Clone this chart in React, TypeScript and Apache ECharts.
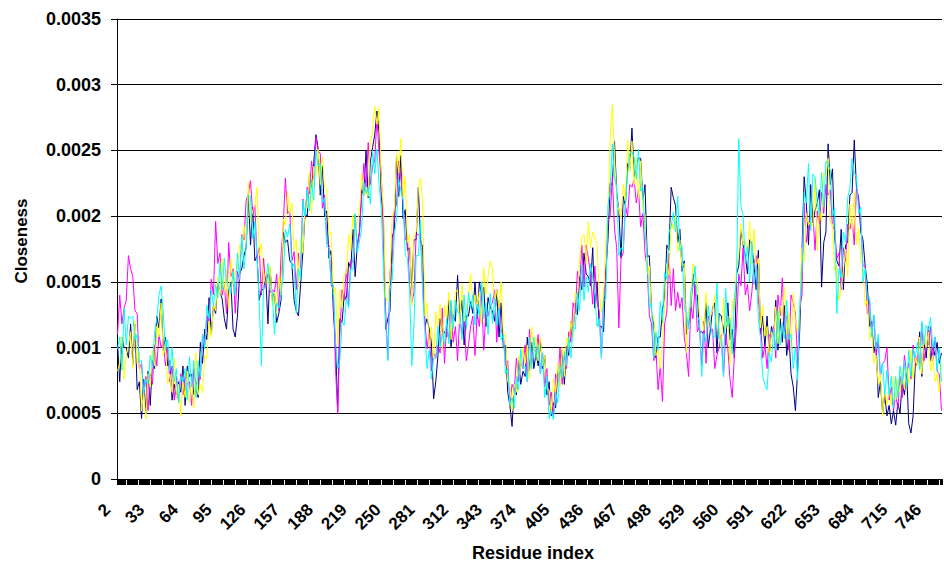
import React, { useEffect, useRef } from "react";
import * as echarts from "echarts";

// Residue range on the category axis and the step of the sampled closeness values
const FIRST_RESIDUE = 2;
const LAST_RESIDUE = 758;
const SAMPLE_STEP = 2;

// Closeness values in units of 1e-5, one per sampled residue (2, 4, 6, ... 758);
// each row covers 30 residues.
const navyVals = [
  103, 74, 108, 100, 100, 92, 118, 87, 118, 68, 74, 46, 76, 50, 82,
  56, 90, 84, 124, 115, 137, 98, 108, 86, 90, 60, 72, 62, 74, 66,
  86, 56, 86, 78, 80, 64, 68, 62, 104, 88, 114, 106, 138, 110, 132,
  126, 150, 142, 137, 122, 114, 143, 150, 114, 108, 124, 156, 160, 170, 176,
  216, 178, 207, 166, 170, 136, 144, 144, 154, 118, 160, 136, 142, 119, 126,
  136, 188, 180, 182, 166, 164, 136, 128, 124, 148, 172, 202, 200, 230, 222,
  240, 262, 252, 216, 238, 200, 204, 168, 174, 128, 104, 52, 122, 119, 140,
  136, 165, 160, 190, 154, 178, 188, 220, 216, 250, 214, 242, 252, 262, 280,
  263, 215, 197, 114, 122, 128, 184, 190, 246, 215, 246, 198, 205, 174, 176,
  144, 182, 182, 222, 182, 176, 116, 122, 114, 104, 61, 74, 94, 122, 112,
  112, 108, 136, 100, 125, 120, 155, 122, 136, 102, 124, 124, 135, 126, 150,
  122, 150, 140, 146, 116, 138, 130, 128, 120, 144, 108, 134, 100, 102, 66,
  56, 40, 72, 64, 90, 72, 82, 78, 108, 82, 104, 84, 96, 86, 106,
  84, 94, 64, 74, 48, 58, 54, 84, 78, 98, 72, 101, 94, 120, 112,
  134, 125, 154, 144, 172, 156, 154, 147, 176, 130, 150, 116, 116, 112, 158,
  182, 225, 224, 257, 218, 204, 168, 215, 208, 240, 236, 267, 230, 238, 244,
  244, 212, 224, 169, 170, 126, 118, 92, 108, 108, 129, 138, 178, 174, 222,
  214, 208, 180, 190, 158, 166, 110, 118, 128, 156, 140, 140, 112, 112, 110,
  134, 100, 114, 130, 134, 96, 126, 124, 114, 102, 134, 106, 114, 92, 156,
  162, 190, 178, 170, 156, 182, 178, 162, 144, 174, 110, 124, 100, 124, 94,
  116, 108, 136, 98, 122, 104, 132, 94, 110, 80, 70, 52, 82, 114, 173,
  230, 210, 178, 224, 195, 204, 210, 220, 146, 180, 188, 255, 224, 236, 184,
  166, 162, 190, 144, 178, 180, 216, 218, 258, 222, 214, 188, 182, 162, 148,
  116, 120, 96, 104, 62, 74, 50, 64, 48, 56, 42, 52, 41, 58, 50,
  74, 64, 82, 42, 35, 48, 88, 86, 112, 78, 104, 92, 116, 90, 102,
  94, 104, 88, 96,
];

const magentaVals = [
  110, 140, 118, 130, 136, 170, 160, 154, 128, 126, 84, 88, 64, 78, 52,
  80, 72, 102, 86, 110, 100, 104, 86, 100, 74, 86, 60, 78, 58, 80,
  64, 78, 72, 74, 56, 84, 72, 76, 76, 110, 102, 124, 120, 152, 140,
  196, 164, 172, 140, 148, 126, 180, 154, 160, 126, 158, 151, 186, 182, 212,
  217, 227, 202, 208, 168, 176, 140, 168, 146, 156, 142, 144, 142, 156, 128,
  170, 192, 229, 202, 204, 166, 173, 144, 172, 160, 213, 198, 222, 217, 242,
  228, 260, 249, 248, 206, 216, 180, 178, 148, 144, 84, 50, 110, 144, 136,
  160, 132, 166, 165, 201, 176, 188, 216, 240, 222, 256, 224, 238, 242, 275,
  247, 234, 180, 128, 91, 158, 165, 206, 208, 242, 229, 210, 182, 184, 148,
  134, 142, 186, 186, 184, 148, 120, 99, 112, 82, 96, 92, 102, 96, 130,
  88, 116, 106, 134, 104, 116, 90, 124, 110, 124, 90, 102, 116, 124, 94,
  126, 116, 142, 98, 126, 124, 132, 134, 144, 104, 136, 112, 110, 86, 90,
  56, 72, 68, 92, 74, 88, 84, 102, 74, 114, 88, 100, 96, 110, 80,
  96, 70, 84, 56, 66, 48, 80, 74, 100, 72, 94, 84, 112, 104, 134,
  126, 158, 146, 178, 146, 178, 168, 156, 133, 162, 134, 128, 92, 140, 152,
  196, 200, 230, 190, 176, 115, 168, 172, 208, 200, 224, 222, 228, 210, 220,
  192, 202, 172, 160, 124, 118, 90, 98, 68, 86, 59, 118, 127, 172, 132,
  160, 128, 142, 130, 138, 108, 96, 78, 132, 122, 148, 112, 116, 86, 120,
  88, 124, 114, 114, 84, 94, 100, 110, 78, 110, 99, 76, 62, 94, 118,
  156, 147, 176, 140, 148, 128, 142, 164, 170, 136, 120, 92, 102, 84, 110,
  108, 116, 92, 140, 124, 153, 112, 124, 98, 140, 134, 126, 88, 130, 140,
  210, 180, 192, 200, 202, 174, 204, 194, 218, 202, 224, 216, 220, 192, 190,
  168, 172, 144, 176, 166, 194, 190, 198, 178, 222, 210, 194, 162, 162, 126,
  136, 110, 124, 94, 106, 78, 88, 90, 100, 60, 70, 52, 64, 54, 78,
  62, 94, 80, 88, 76, 102, 86, 94, 88, 118, 90, 102, 102, 116, 90,
  108, 82, 80, 52,
];

const yellowVals = [
  82, 88, 108, 76, 94, 102, 112, 84, 120, 88, 96, 52, 66, 46, 80,
  70, 98, 86, 116, 108, 134, 94, 104, 72, 80, 66, 92, 62, 72, 48,
  74, 62, 82, 58, 76, 54, 96, 64, 72, 66, 94, 92, 120, 108, 132,
  128, 154, 140, 168, 142, 159, 129, 168, 148, 158, 160, 178, 172, 193, 180,
  226, 196, 204, 208, 222, 170, 179, 148, 158, 148, 162, 132, 142, 126, 154,
  140, 198, 193, 219, 202, 210, 174, 182, 146, 183, 172, 207, 206, 233, 202,
  238, 230, 251, 224, 245, 222, 220, 186, 188, 140, 146, 102, 144, 130, 156,
  156, 186, 174, 201, 184, 196, 204, 232, 216, 222, 215, 257, 264, 284, 270,
  282, 228, 206, 138, 135, 154, 200, 205, 248, 233, 259, 214, 230, 180, 186,
  132, 186, 188, 221, 229, 209, 124, 134, 101, 116, 90, 127, 116, 133, 98,
  132, 122, 142, 106, 125, 142, 144, 118, 148, 120, 131, 138, 156, 132, 140,
  130, 142, 118, 161, 140, 154, 166, 160, 134, 144, 130, 150, 110, 110, 74,
  74, 52, 72, 66, 94, 84, 100, 88, 102, 76, 116, 96, 108, 90, 108,
  86, 94, 68, 68, 50, 76, 64, 88, 70, 100, 78, 108, 100, 120, 108,
  142, 138, 166, 184, 186, 164, 196, 176, 188, 184, 178, 142, 127, 140, 182,
  205, 258, 285, 246, 214, 204, 199, 224, 211, 258, 234, 257, 224, 244, 213,
  242, 204, 201, 156, 162, 124, 124, 94, 98, 84, 106, 132, 164, 155, 196,
  190, 200, 173, 182, 162, 164, 96, 130, 131, 164, 155, 152, 124, 123, 113,
  142, 116, 124, 128, 140, 119, 114, 100, 138, 114, 124, 87, 137, 128, 161,
  170, 194, 178, 181, 172, 196, 164, 190, 162, 168, 115, 132, 109, 116, 93,
  112, 108, 131, 103, 132, 124, 146, 110, 126, 98, 141, 120, 112, 130, 176,
  165, 202, 193, 196, 192, 229, 174, 205, 196, 233, 230, 244, 194, 194, 158,
  162, 136, 146, 158, 175, 154, 209, 190, 218, 178, 191, 167, 162, 132, 136,
  106, 114, 88, 94, 72, 82, 48, 68, 56, 70, 56, 78, 60, 76, 66,
  84, 68, 84, 73, 98, 76, 94, 86, 108, 80, 110, 100, 112, 82, 94,
  74, 80, 66, 88,
];

const cyanVals = [
  99, 108, 83, 130, 102, 124, 122, 124, 106, 110, 89, 90, 65, 76, 72,
  94, 84, 112, 122, 140, 147, 126, 98, 106, 82, 100, 74, 84, 58, 78,
  74, 84, 60, 93, 70, 90, 62, 90, 78, 110, 99, 132, 122, 144, 132,
  148, 138, 165, 144, 168, 150, 146, 141, 158, 140, 172, 152, 185, 160, 176,
  216, 215, 183, 196, 170, 134, 86, 146, 148, 164, 144, 142, 110, 134, 130,
  143, 153, 190, 184, 194, 160, 164, 126, 160, 152, 212, 200, 220, 204, 226,
  212, 250, 238, 240, 210, 214, 177, 176, 148, 148, 104, 84, 90, 120, 117,
  138, 130, 160, 159, 202, 172, 181, 191, 226, 217, 222, 209, 250, 232, 251,
  224, 206, 158, 120, 90, 144, 152, 186, 198, 228, 219, 212, 170, 168, 142,
  86, 118, 170, 170, 197, 140, 111, 84, 98, 76, 92, 92, 116, 100, 111,
  102, 122, 103, 136, 114, 136, 127, 126, 106, 140, 114, 142, 130, 140, 117,
  133, 124, 150, 122, 134, 110, 141, 118, 138, 117, 130, 106, 110, 80, 84,
  56, 62, 54, 78, 68, 99, 84, 86, 74, 108, 84, 108, 92, 102, 80,
  96, 62, 78, 46, 52, 45, 66, 58, 86, 77, 97, 86, 108, 92, 116,
  114, 142, 128, 163, 136, 154, 142, 164, 153, 140, 116, 122, 92, 136, 137,
  208, 220, 255, 229, 222, 170, 176, 174, 208, 232, 248, 249, 245, 228, 251,
  219, 222, 188, 168, 130, 134, 92, 112, 98, 135, 119, 157, 152, 188, 192,
  203, 188, 215, 174, 177, 130, 126, 114, 143, 147, 162, 124, 120, 78, 111,
  104, 132, 118, 108, 108, 149, 107, 106, 78, 145, 116, 122, 95, 138, 152,
  259, 208, 200, 164, 177, 150, 181, 148, 163, 122, 107, 78, 72, 68, 96,
  89, 114, 98, 128, 102, 119, 107, 136, 106, 110, 84, 100, 75, 133, 157,
  218, 210, 240, 189, 232, 230, 211, 201, 233, 207, 242, 239, 235, 200, 206,
  126, 160, 153, 188, 180, 214, 222, 244, 233, 230, 202, 207, 150, 160, 137,
  138, 108, 125, 99, 110, 80, 88, 64, 83, 64, 78, 54, 78, 62, 86,
  72, 90, 70, 98, 78, 99, 92, 104, 83, 120, 102, 117, 113, 123, 100,
  108, 82, 100, 74,
];

const seriesDefs = [
  { name: "Series 1", color: "#000080", values: navyVals },
  { name: "Series 2", color: "#FF00FF", values: magentaVals },
  { name: "Series 3", color: "#FFFF00", values: yellowVals },
  { name: "Series 4", color: "#00FFFF", values: cyanVals },
];

const Y_MIN = 0;
const Y_MAX = 0.0035;
const Y_STEP = 0.0005;
const VALUE_UNIT = 1e-5;

const FONT = "'Liberation Sans', Arial, sans-serif";

export default function App() {
  const ref = useRef<HTMLDivElement>(null);

  useEffect(() => {
    if (!ref.current) return;
    const chart = echarts.init(ref.current, undefined, { renderer: "svg" });

    const categories: string[] = [];
    for (let r = FIRST_RESIDUE; r <= LAST_RESIDUE; r++) categories.push(String(r));

    const series = seriesDefs.map((s) => ({
      name: s.name,
      type: "line" as const,
      showSymbol: false,
      symbol: "none",
      silent: true,
      lineStyle: { color: s.color, width: 1 },
      itemStyle: { color: s.color },
      // [category index, closeness]
      data: s.values.map((v, i) => [i * SAMPLE_STEP, v * VALUE_UNIT]),
    }));

    chart.setOption({
      animation: false,
      backgroundColor: "#ffffff",
      grid: { left: 117, right: 2, top: 19, bottom: 89, containLabel: false },
      xAxis: {
        type: "category",
        data: categories,
        boundaryGap: true,
        axisLine: { show: true, lineStyle: { color: "#000", width: 1 } },
        axisTick: {
          show: true,
          interval: 0,
          length: 6,
          lineStyle: { color: "#000", width: 1 },
        },
        axisLabel: {
          interval: 30,
          rotate: 45,
          margin: 18,
          padding: [0, 14, 0, 0],
          color: "#000",
          fontFamily: FONT,
          fontWeight: "bold",
          fontSize: 17,
        },
        splitLine: { show: false },
      },
      yAxis: {
        type: "value",
        min: Y_MIN,
        max: Y_MAX,
        interval: Y_STEP,
        axisLine: { show: true, lineStyle: { color: "#000", width: 1 } },
        axisTick: { show: true, length: 6, lineStyle: { color: "#000" } },
        axisLabel: {
          margin: 16,
          color: "#000",
          fontFamily: FONT,
          fontWeight: "bold",
          fontSize: 18,
          formatter: (v: number) => String(+v.toFixed(4)),
        },
        splitLine: { show: true, lineStyle: { color: "#000", width: 1 } },
      },
      graphic: [
        {
          type: "text",
          x: 21,
          y: 241,
          rotation: Math.PI / 2,
          style: {
            text: "Closeness",
            fill: "#000",
            font: `bold 17px ${FONT}`,
            textAlign: "center",
            textVerticalAlign: "middle",
          },
        },
        {
          type: "text",
          x: 533,
          y: 553,
          style: {
            text: "Residue index",
            fill: "#000",
            font: `bold 18px ${FONT}`,
            textAlign: "center",
            textVerticalAlign: "middle",
          },
        },
      ],
      series,
    });

    return () => chart.dispose();
  }, []);

  return (
    <div
      ref={ref}
      style={{ position: "fixed", left: 0, top: 0, width: 944, height: 568, background: "#fff" }}
    />
  );
}
